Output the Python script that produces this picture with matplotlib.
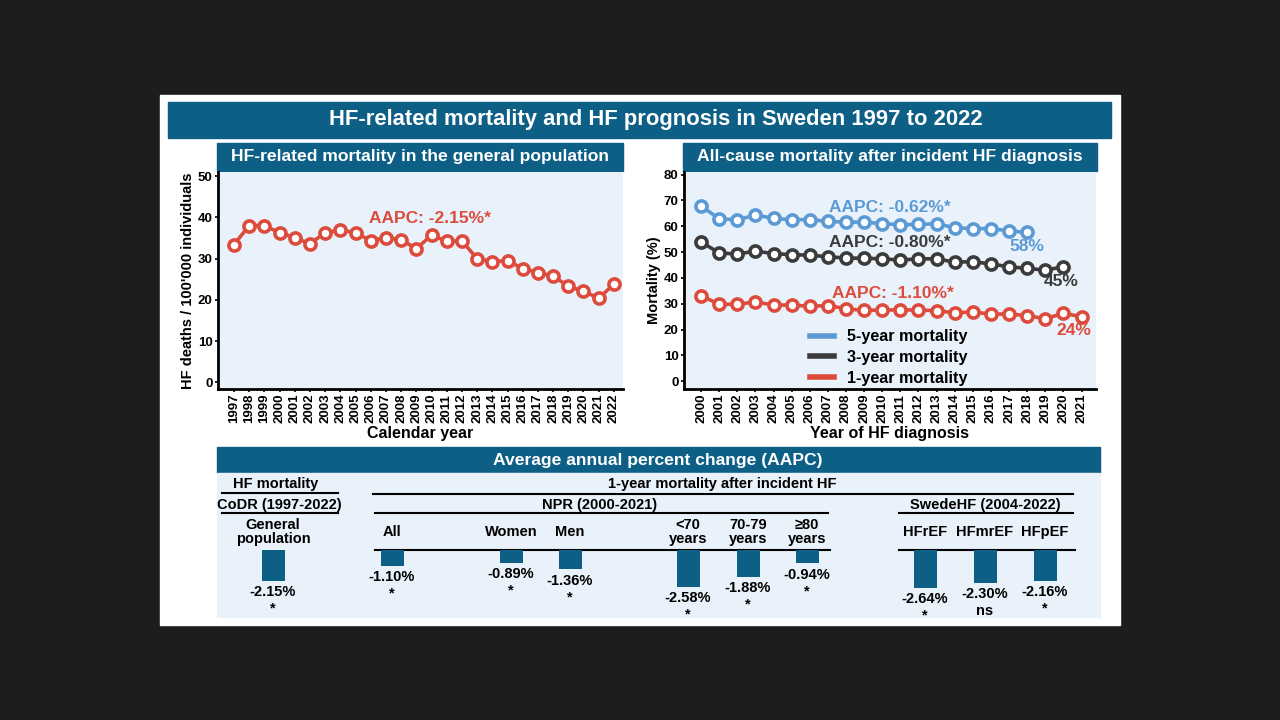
import matplotlib
matplotlib.use("Agg")
import matplotlib.pyplot as plt
from matplotlib.patches import Rectangle

plt.rcParams['font.family'] = ['Liberation Sans', 'DejaVu Sans']
plt.rcParams['font.weight'] = 'bold'
plt.rcParams['axes.labelweight'] = 'bold'

# ---- data ----
years_pop = list(range(1997, 2023))
hf_deaths = [33.4, 38.0, 38.0, 36.3, 35.1, 33.6, 36.3, 36.9, 36.3, 34.3, 35.1, 34.6, 32.4,
             35.7, 34.2, 34.3, 30.0, 29.3, 29.5, 27.6, 26.6, 25.8, 23.3, 22.1, 20.4, 23.8]

years_5y = list(range(2000, 2019))
mort_5y = [67.8, 62.9, 62.5, 64.3, 63.1, 62.5, 62.6, 61.9, 61.6, 61.6, 61.0, 60.6, 60.7,
           61.0, 59.4, 59.1, 59.1, 58.2, 57.6]
years_3y = list(range(2000, 2021))
mort_3y = [53.9, 49.7, 49.2, 50.4, 49.4, 49.0, 48.8, 48.2, 47.7, 47.6, 47.4, 46.9, 47.4,
           47.4, 46.1, 46.3, 45.4, 44.3, 43.7, 43.0, 44.3]
years_1y = list(range(2000, 2022))
mort_1y = [33.1, 29.8, 29.8, 30.7, 29.5, 29.5, 29.0, 29.3, 28.1, 27.4, 27.6, 27.6, 27.6,
           27.3, 26.5, 26.8, 26.0, 26.0, 25.4, 24.2, 26.3, 25.0]

aapc_labels = ['General\npopulation', 'All', 'Women', 'Men', '<70\nyears', '70-79\nyears',
               '≥80\nyears', 'HFrEF', 'HFmrEF', 'HFpEF']
aapc_values = [-2.15, -1.10, -0.89, -1.36, -2.58, -1.88, -0.94, -2.64, -2.30, -2.16]
aapc_sig = ['*', '*', '*', '*', '*', '*', '*', '*', 'ns', '*']

# ---- style ----
TEAL = '#0d5f86'
PANEL = '#e9f2fa'
RED = '#dc4b3c'
BLUE = '#5b9ad4'
GREY = '#3b3b3b'

fig = plt.figure(figsize=(12.8, 7.2), dpi=100, facecolor='#1d1d1d')


def rect(x0, y0, x1, y1):
    return [x0 / 1280, 1 - y1 / 720, (x1 - x0) / 1280, (y1 - y0) / 720]


bg = fig.add_axes([0, 0, 1, 1], zorder=0)
bg.set_xlim(0, 1280)
bg.set_ylim(720, 0)
bg.axis('off')
bg.add_patch(Rectangle((160, 95), 960, 530, color='white'))
bg.add_patch(Rectangle((168, 102), 943, 36, color=TEAL))
bg.text(656, 119, 'HF-related mortality and HF prognosis in Sweden 1997 to 2022',
        color='white', fontsize=15.8, ha='center', va='center')
bg.add_patch(Rectangle((217, 143), 406, 28, color=TEAL))
bg.text(420, 157, 'HF-related mortality in the general population', color='white',
        fontsize=12.6, ha='center', va='center')
bg.add_patch(Rectangle((683, 143), 414, 28, color=TEAL))
bg.text(890, 157, 'All-cause mortality after incident HF diagnosis', color='white',
        fontsize=12.6, ha='center', va='center')
bg.add_patch(Rectangle((217, 447), 883, 26, color=TEAL))
bg.text(658, 460, 'Average annual percent change (AAPC)', color='white',
        fontsize=12.6, ha='center', va='center')
bg.add_patch(Rectangle((217, 473), 883, 144, color=PANEL))

# header rows of the AAPC table
FS = 10.5
bg.text(276, 484, 'HF mortality', fontsize=FS, ha='center', va='center')
bg.plot([222, 338], [493, 493], color='black', lw=1.5)
bg.text(279, 505, 'CoDR (1997-2022)', fontsize=FS, ha='center', va='center')
bg.plot([222, 338], [513, 513], color='black', lw=1.5)
bg.text(722, 484, '1-year mortality after incident HF', fontsize=FS, ha='center', va='center')
bg.plot([373, 1073], [494, 494], color='black', lw=1.5)
bg.text(600, 505, 'NPR (2000-2021)', fontsize=FS, ha='center', va='center')
bg.plot([375, 828], [513, 513], color='black', lw=1.5)
bg.text(985, 505, 'SwedeHF (2004-2022)', fontsize=FS, ha='center', va='center')
bg.plot([899, 1073], [513, 513], color='black', lw=1.5)
bg.plot([375, 830], [550, 550], color='black', lw=1.5)
bg.plot([899, 1075], [550, 550], color='black', lw=1.5)


def style_axes(ax):
    ax.set_facecolor(PANEL)
    for s in ['top', 'right']:
        ax.spines[s].set_visible(False)
    for s in ['left', 'bottom']:
        ax.spines[s].set_linewidth(2)
    ax.tick_params(axis='both', width=1.2, length=2.5, labelsize=9.5, pad=1.5)
    ax.tick_params(axis='x', rotation=90, pad=1)


mk = dict(marker='o', markersize=8, markerfacecolor='white', markeredgewidth=2.6, lw=2.6)

# ---- left line chart ----
ax1 = fig.add_axes(rect(218, 172, 623, 389), zorder=1)
style_axes(ax1)
ax1.plot(years_pop, hf_deaths, color=RED, markeredgecolor=RED, **mk)
ax1.set_xlim(1995.95, 2022.6)
ax1.set_ylim(-1.6, 51)
ax1.set_xticks(years_pop)
ax1.set_yticks(range(0, 51, 10))
ax1.set_xlabel('Calendar year', fontsize=11.5, labelpad=1.5)
ax1.set_ylabel("HF deaths / 100'000 individuals", fontsize=10.5, labelpad=2)
ax1.text(2009.9, 39.8, 'AAPC: -2.15%*', color=RED, fontsize=12.5, ha='center', va='center')

# ---- right line chart ----
ax2 = fig.add_axes(rect(684, 172, 1096, 389), zorder=1)
style_axes(ax2)
ax2.plot(years_5y, mort_5y, color=BLUE, markeredgecolor=BLUE, label='5-year mortality', **mk)
ax2.plot(years_3y, mort_3y, color=GREY, markeredgecolor=GREY, label='3-year mortality', **mk)
ax2.plot(years_1y, mort_1y, color=RED, markeredgecolor=RED, label='1-year mortality', **mk)
ax2.set_xlim(1999.06, 2021.8)
ax2.set_ylim(-3, 81)
ax2.set_xticks(years_1y)
ax2.set_yticks(range(0, 81, 10))
ax2.set_xlabel('Year of HF diagnosis', fontsize=11.5, labelpad=1.5)
ax2.set_ylabel('Mortality (%)', fontsize=10.5, labelpad=2)
ax2.text(2010.4, 67.3, 'AAPC: -0.62%*', color=BLUE, fontsize=12.5, ha='center', va='center')
ax2.text(2010.4, 53.8, 'AAPC: -0.80%*', color=GREY, fontsize=12.5, ha='center', va='center')
ax2.text(2010.6, 34.1, 'AAPC: -1.10%*', color=RED, fontsize=12.5, ha='center', va='center')
ax2.text(2018.0, 52.2, '58%', color=BLUE, fontsize=12.5, ha='center', va='center')
ax2.text(2019.9, 38.7, '45%', color=GREY, fontsize=12.5, ha='center', va='center')
ax2.text(2020.55, 19.8, '24%', color=RED, fontsize=12.5, ha='center', va='center')
leg_handles = [plt.Line2D([], [], color=c, lw=4) for c in [BLUE, GREY, RED]]
ax2.legend(leg_handles, ['5-year mortality', '3-year mortality', '1-year mortality'],
           loc='upper left', bbox_to_anchor=(0.29, 0.305), frameon=False, fontsize=11.6,
           handlelength=1.5, handletextpad=0.8, labelspacing=0.35, borderaxespad=0)

# ---- AAPC bars ----
bar_x = [273, 392, 511, 570, 688, 748, 807, 925, 985, 1045]
axb = fig.add_axes(rect(217, 550, 1100, 617), zorder=1)
axb.set_xlim(217, 1100)
axb.set_ylim(-67 / 14.3, 0)
axb.axis('off')
axb.bar(bar_x, aapc_values, width=23, color=TEAL)
for x, v, lab, sig in zip(bar_x, aapc_values, aapc_labels, aapc_sig):
    axb.annotate(f'{v:.2f}%', (x, v), xytext=(0, -3), textcoords='offset points',
                 ha='center', va='top', fontsize=FS)
    axb.annotate(sig, (x, v), xytext=(0, -15), textcoords='offset points',
                 ha='center', va='top', fontsize=FS)
    bg.text(x, 532, lab, fontsize=FS, ha='center', va='center', linespacing=1.05)

fig.savefig('out.png', dpi=100, facecolor=fig.get_facecolor())
